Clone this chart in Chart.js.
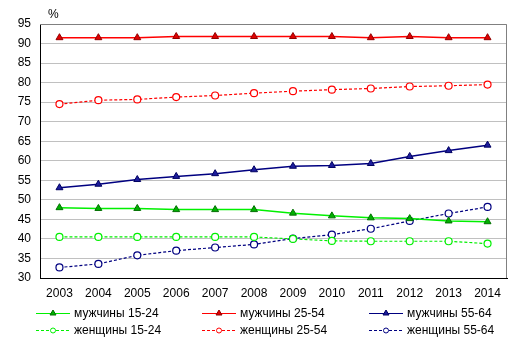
<!DOCTYPE html>
<html>
<head>
<meta charset="utf-8">
<script src="https://cdn.jsdelivr.net/npm/chart.js@4"></script>
<style>
  html, body { margin: 0; padding: 0; background: #fff; }
  #wrap { width: 522px; height: 342px; position: relative; }
</style>
</head>
<body>
<div id="wrap"><canvas id="chart"></canvas></div>
<script>
const years = ['2003', '2004', '2005', '2006', '2007', '2008', '2009', '2010', '2011', '2012', '2013', '2014'];
const yTicks = [30, 35, 40, 45, 50, 55, 60, 65, 70, 75, 80, 85, 90, 95];

const men15 = [48.0, 47.8, 47.8, 47.5, 47.5, 47.5, 46.6, 45.9, 45.4, 45.2, 44.6, 44.4];
const men25 = [91.5, 91.5, 91.5, 91.8, 91.8, 91.8, 91.8, 91.8, 91.5, 91.8, 91.5, 91.5];
const men55 = [53.1, 54.0, 55.2, 56.0, 56.7, 57.7, 58.6, 58.8, 59.3, 61.1, 62.6, 64.0];
const women15 = [40.5, 40.5, 40.5, 40.5, 40.5, 40.5, 40.0, 39.5, 39.4, 39.4, 39.4, 38.8];
const women25 = [74.5, 75.5, 75.7, 76.3, 76.7, 77.3, 77.8, 78.2, 78.5, 79.0, 79.2, 79.5];
const women55 = [32.7, 33.6, 35.8, 37.0, 37.8, 38.6, 40.1, 41.1, 42.6, 44.6, 46.5, 48.2];

const FONT = 'Liberation Sans, Arial, sans-serif';

function menSet(label, data, line, fill, edge) {
  return {
    label, data,
    borderColor: line, borderWidth: 1.5,
    pointStyle: 'triangle', pointRadius: 4, pointHoverRadius: 4,
    pointBackgroundColor: fill, pointBorderColor: edge, pointBorderWidth: 1,
    tension: 0
  };
}
function womenSet(label, data, line) {
  return {
    label, data,
    borderColor: line, borderWidth: 1.2, borderDash: [3, 2],
    pointStyle: 'circle', pointRadius: 3.5, pointHoverRadius: 3.5,
    pointBackgroundColor: '#fff', pointBorderColor: line, pointBorderWidth: 1.2,
    tension: 0
  };
}

const datasets = [
  menSet('мужчины 15-24', men15, '#00F000', '#00B000', '#007000'),
  menSet('мужчины 25-54', men25, '#FF0000', '#E00000', '#900000'),
  menSet('мужчины 55-64', men55, '#000080', '#1C1C9C', '#000060'),
  womenSet('женщины 15-24', women15, '#00F000'),
  womenSet('женщины 25-54', women25, '#FF0000'),
  womenSet('женщины 55-64', women55, '#000080')
];

// frame, "%" label and the 3-column legend at the bottom
const extras = {
  id: 'extras',
  afterDraw(chart) {
    const ctx = chart.ctx;
    const a = chart.chartArea;
    ctx.save();
    ctx.strokeStyle = '#808080';
    ctx.lineWidth = 1;
    ctx.beginPath();
    ctx.moveTo(a.left, a.top + 0.5);
    ctx.lineTo(a.right - 0.5, a.top + 0.5);
    ctx.lineTo(a.right - 0.5, a.bottom);
    ctx.stroke();

    ctx.fillStyle = '#000';
    ctx.font = '12px ' + FONT;
    ctx.textBaseline = 'middle';
    ctx.textAlign = 'left';
    ctx.fillText('%', 48, 15);

    const cols = [36, 202, 369];
    const rows = [313, 330];
    chart.data.datasets.forEach((ds, i) => {
      const x = cols[i % 3];
      const y = rows[Math.floor(i / 3)];
      ctx.strokeStyle = ds.borderColor;
      ctx.lineWidth = 1;
      ctx.setLineDash(ds.borderDash || []);
      ctx.beginPath();
      ctx.moveTo(x, y + 0.5);
      ctx.lineTo(x + 34, y + 0.5);
      ctx.stroke();
      ctx.setLineDash([]);
      const mx = x + 17;
      ctx.lineWidth = 1;
      if (ds.pointStyle === 'triangle') {
        ctx.fillStyle = ds.pointBackgroundColor;
        ctx.strokeStyle = ds.pointBorderColor;
        ctx.beginPath();
        ctx.moveTo(mx, y - 3);
        ctx.lineTo(mx + 3, y + 2);
        ctx.lineTo(mx - 3, y + 2);
        ctx.closePath();
        ctx.fill();
        ctx.stroke();
      } else {
        ctx.fillStyle = '#fff';
        ctx.strokeStyle = ds.pointBorderColor;
        ctx.beginPath();
        ctx.arc(mx, y + 0.5, 2.5, 0, Math.PI * 2);
        ctx.fill();
        ctx.stroke();
      }
      ctx.fillStyle = '#000';
      ctx.fillText(ds.label, x + 38, y + 1);
    });
    ctx.restore();
  }
};

new Chart(document.getElementById('chart'), {
  type: 'line',
  data: { labels: years, datasets },
  plugins: [extras],
  options: {
    responsive: true,
    maintainAspectRatio: false,
    animation: false,
    layout: { padding: { top: 24, right: 15, bottom: 39, left: 0 } },
    plugins: { legend: { display: false }, tooltip: { enabled: false } },
    scales: {
      x: {
        offset: true,
        grid: { display: false, drawTicks: false },
        border: { color: '#000', width: 1 },
        ticks: { color: '#000', font: { family: FONT, size: 12 }, padding: 8, maxRotation: 0, autoSkip: false },
        afterFit(s) { s.height = 25; }
      },
      y: {
        min: 30, max: 95,
        afterBuildTicks(s) { s.ticks = yTicks.map(v => ({ value: v })); },
        grid: { color: '#C0C0C0', drawTicks: false },
        border: { color: '#000', width: 1 },
        ticks: { color: '#000', font: { family: FONT, size: 12 }, padding: 9 },
        afterFit(s) { s.width = 40; }
      }
    }
  }
});
</script>
</body>
</html>
